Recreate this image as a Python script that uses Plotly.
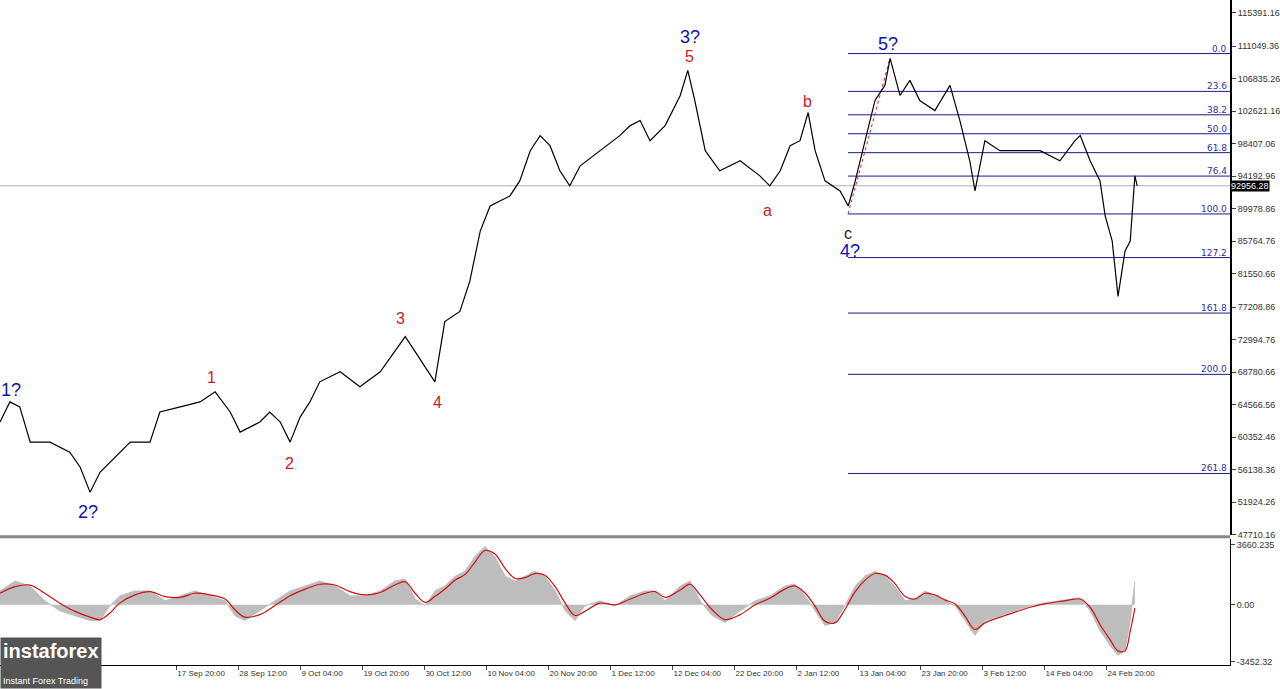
import plotly.graph_objects as go
import pandas as pd

day0 = pd.Timestamp("2024-08-18 12:00")
# price path: day offsets from day0 and prices
price_days = [0,1.7,3.4,5.2,8.6,12,13.8,15.5,17.2,18.9,20.6,22.4,25.8,27.5,31,34.4,37,39.6,41.3,44.7,46.4,48.2,49.9,51.6,53.3,55,58.5,61.9,65.4,67.9,69.7,71.4,73.1,74.8,76.5,79.1,80.8,82.6,84.3,87.7,89.4,91.2,92.9,94.6,96.3,98,99.8,103.2,106.6,108.4,110.1,111.8,114.4,117,118.3,119.5,121.3,123.8,127.3,130.7,132.4,134.2,135.9,137.6,139,140.2,141.9,144.5,145.9,147.1,148.8,150.5,152.2,153.1,154.8,156.5,158.2,160.8,163.4,165.1,166.8,167.7,169.4,172,175.4,178.9,182.3,184.9,185.8,187.5,189.2,190.1,191.3,192.3,193.5,194.4,195.2,195.6]
price_vals = [62317,64923,64272,59711,59711,58408,56454,53196,55802,57105,58408,59711,59711,63620,64272,64923,66226,63620,61014,62317,63620,62317,59711,62928,64923,67529,68832,66877,68832,71438,73393,71438,69483,67529,75348,76650,80559,87074,90332,91634,93589,97498,99453,98150,94892,92937,95543,97498,99453,100756,101407,98801,100756,104664,107922,104013,97498,94892,96195,94240,92937,94892,98150,98801,102449,97498,93589,92286,90332,93589,98801,104013,105968,109485,104664,106619,104013,102710,105968,101407,96195,92286,98801,97498,97498,97498,96195,98801,99453,96195,93589,89028,85771,78604,84468,85771,94240,92937]

osc_days = [0,2.6,5.2,7.7,10.3,12.9,15.5,17.2,18.9,20.6,23.2,25.8,28.4,31,33.5,36.1,38.7,40.4,42.1,44.7,47.3,49.9,52.5,55,57.6,60.2,62.8,65.4,67.9,69.7,71.4,73.1,74.8,76.5,78.3,80,81.7,83.4,85.1,86.9,88.6,90.3,92,93.7,95.5,97.2,98.9,100.6,103.2,105.8,108.4,111,112.7,114.4,117,118.7,120.4,122.5,124.7,127.3,129.9,132.4,135,136.7,138.5,140.2,141.9,143.6,145.3,147.1,148.8,150.5,152.2,153.9,155.7,157.4,159.1,160.8,162.5,164.3,166,167.7,169.4,172,174.6,177.2,179.7,182.3,184,185.8,187.5,189.2,190.9,192.3,193.5,194.4,195.2]
osc_hist = [840,1440,1140,240,-360,-660,-960,-960,-60,540,840,840,240,540,840,540,240,-660,-960,-360,240,840,1140,1440,1140,540,540,840,1440,1560,360,-60,840,1140,1740,2040,2940,3540,2940,1740,1440,1740,2040,1740,840,-360,-960,-60,240,-60,540,840,840,240,1140,1440,240,-660,-1080,-360,240,540,1140,1260,540,-360,-1260,-1080,-60,1140,1740,2040,1740,1140,240,360,840,540,240,-60,-960,-1860,-960,-660,-360,-60,120,240,360,420,-360,-1560,-2460,-3060,-2760,-960,1440]
osc_sig = [700,1100,1200,700,100,-400,-750,-900,-500,100,600,800,500,450,700,600,350,-300,-750,-600,-50,550,950,1250,1200,800,600,750,1200,1400,700,150,500,950,1500,1850,2600,3300,3100,2200,1600,1650,1900,1800,1100,100,-650,-400,100,0,350,700,800,450,900,1250,600,-300,-900,-600,0,400,950,1150,700,-100,-1000,-1100,-300,800,1500,1900,1800,1300,500,350,700,600,300,50,-700,-1500,-1100,-750,-450,-150,50,200,300,350,-150,-1200,-2100,-2800,-2800,-1600,-200]

fib_levels = [0.0,23.6,38.2,50.0,61.8,76.4,100.0,127.2,161.8,200.0,261.8]
fib_high = 110100
fib_low = 89300
current_price = 92956.28

price_ticks = [115391.16,111049.36,106835.26,102621.16,98407.06,94192.96,89978.86,85764.76,81550.66,77208.86,72994.76,68780.66,64566.56,60352.46,56138.36,51924.26,47710.16]
date_ticks = ["2024-09-17 20:00","2024-09-28 12:00","2024-10-09 04:00","2024-10-19 20:00","2024-10-30 12:00","2024-11-10 04:00","2024-11-20 20:00","2024-12-01 12:00","2024-12-12 04:00","2024-12-22 20:00","2025-01-02 12:00","2025-01-13 04:00","2025-01-23 20:00","2025-02-03 12:00","2025-02-14 04:00","2025-02-24 20:00"]
date_labels = ["17 Sep 20:00","28 Sep 12:00","9 Oct 04:00","19 Oct 20:00","30 Oct 12:00","10 Nov 04:00","20 Nov 20:00","1 Dec 12:00","12 Dec 04:00","22 Dec 20:00","2 Jan 12:00","13 Jan 04:00","23 Jan 20:00","3 Feb 12:00","14 Feb 04:00","24 Feb 20:00"]

def D(px):
    return day0 + pd.Timedelta(days=px * 0.172)

px_x = [day0 + pd.Timedelta(days=d) for d in price_days]
os_x = [day0 + pd.Timedelta(days=d) for d in osc_days]
xend = D(1230)

fig = go.Figure()
fig.add_trace(go.Scatter(x=[day0, xend], y=[current_price]*2, mode="lines",
                         line=dict(color="#b0b0b0", width=1), yaxis="y", hoverinfo="skip"))
for lv in fib_levels:
    p = fib_high - lv / 100 * (fib_high - fib_low)
    fig.add_trace(go.Scatter(x=[D(848), xend], y=[p, p], mode="lines",
                             line=dict(color="#1a1a8c", width=1), yaxis="y"))
    fig.add_annotation(x=D(1229), y=p, text=f"{lv:.1f}", showarrow=False, xanchor="right",
                       yanchor="bottom", font=dict(size=9, color="#3030a0", family="DejaVu Sans"), yshift=-2)
fig.add_trace(go.Scatter(x=[D(848), D(890)], y=[89300, 109485], mode="lines",
                         line=dict(color="#d02020", width=1, dash="dot"), yaxis="y"))
fig.add_trace(go.Scatter(x=px_x, y=price_vals, mode="lines", line=dict(color="black", width=1.2), yaxis="y"))
fig.add_trace(go.Scatter(x=os_x, y=osc_hist, mode="lines", fill="tozeroy", fillcolor="#bdbdbd",
                         line=dict(color="#bdbdbd", width=1), yaxis="y2", xaxis="x"))
fig.add_trace(go.Scatter(x=os_x, y=osc_sig, mode="lines", line=dict(color="#d01010", width=1.2, shape="spline"),
                         yaxis="y2"))

def lab(px, price, t, color, size=18):
    fig.add_annotation(x=D(px), y=price, text=t, showarrow=False,
                       font=dict(size=size, color=color, family="Arial"))
blue = "#1010b0"; red = "#d02020"
lab(11, 66500, "1?", blue); lab(88, 50600, "2?", blue); lab(690, 112200, "3?", blue)
lab(850, 84500, "4?", blue); lab(888, 111300, "5?", blue)
lab(211, 68100, "1", red, 16); lab(289, 57000, "2", red, 16); lab(400, 75700, "3", red, 16)
lab(437, 64800, "4", red, 16); lab(689, 109700, "5", red, 16); lab(767, 89700, "a", red, 16)
lab(807, 103900, "b", red, 16); lab(848, 86700, "c", "#402020", 16)

fig.add_annotation(x=1, xref="paper", y=current_price, yref="y", text="92956.28", showarrow=False,
                   xanchor="left", bgcolor="black", font=dict(color="white", size=9, family="Liberation Sans"), borderpad=0)
fig.add_annotation(x=0, y=0, xref="paper", yref="paper", yanchor="bottom", xanchor="left",
                   text="<b>instaforex</b><br><span style='font-size:9px'>Instant Forex Trading</span>",
                   showarrow=False, bgcolor="#555555", font=dict(color="white", size=20, family="Arial"),
                   align="left", yshift=-24, borderpad=2)

axfont = dict(size=9, color="#333", family="Liberation Sans")
fig.update_layout(
    width=1280, height=689, paper_bgcolor="white", plot_bgcolor="white",
    margin=dict(l=0, r=50, t=0, b=24), showlegend=False,
    xaxis=dict(range=[day0, xend], tickvals=date_ticks, ticktext=date_labels, showgrid=False,
               ticks="outside", ticklen=4, tickangle=0, automargin=False,
               tickfont=dict(size=8, color="#333", family="Liberation Sans"),
               ticklabelposition="outside right", showline=True, linecolor="black", anchor="y2"),
    yaxis=dict(domain=[0.196, 1], range=[47710, 117043], side="right", tickvals=price_ticks,
               ticktext=[f"{v:.2f}" for v in price_ticks], showgrid=False, ticks="outside", ticklen=4,
               tickfont=axfont, showline=True, linecolor="black", linewidth=2, zeroline=False, automargin=False),
    yaxis2=dict(domain=[0, 0.19], range=[-3660, 4020], side="right", tickvals=[3660.235, 0, -3452.32],
                ticktext=["3660.235", "0.00", "-3452.32"], showgrid=False, ticks="outside", ticklen=4,
                tickfont=axfont, showline=True, linecolor="black", zeroline=False, automargin=False),
)
fig.add_shape(type="line", xref="paper", yref="paper", x0=0, x1=1, y0=0.193, y1=0.193,
              line=dict(color="#888", width=3))
fig.write_html("out.html", config={"displayModeBar": False})
with open("out.html", encoding="utf-8") as f:
    html = f.read()
html = html.replace("<head>", "<head><style>html,body{margin:0;padding:0;overflow:hidden;}</style>", 1)
with open("out.html", "w", encoding="utf-8") as f:
    f.write(html)
